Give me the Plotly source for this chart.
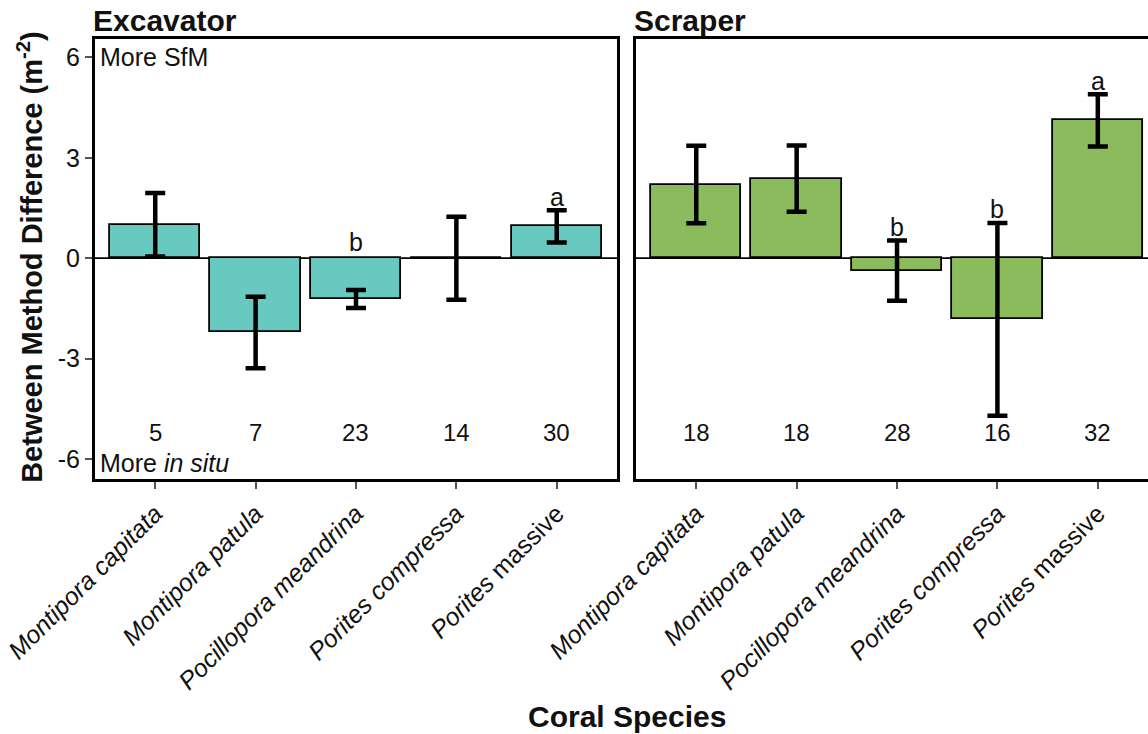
import plotly.graph_objects as go

# Coral species (x categories)
species = ["Montipora capitata", "Montipora patula", "Pocillopora meandrina",
           "Porites compressa", "Porites massive"]
species_labels = ["<i>Montipora capitata</i>", "<i>Montipora patula</i>",
                  "<i>Pocillopora meandrina</i>", "<i>Porites compressa</i>",
                  "<i>Porites</i> massive"]

# Excavator: mean between-method difference and standard error
excavator_mean = [1.00, -2.22, -1.22, 0.0, 0.95]
excavator_se = [0.95, 1.07, 0.27, 1.24, 0.48]
excavator_n = [5, 7, 23, 14, 30]
excavator_letters = ["", "", "b", "", "a"]
excavator_letter_y = [None, None, 0.48, None, 1.82]

# Scraper
scraper_mean = [2.20, 2.38, -0.37, -1.83, 4.12]
scraper_se = [1.16, 0.99, 0.90, 2.88, 0.78]
scraper_n = [18, 18, 28, 16, 32]
scraper_letters = ["", "", "b", "b", "a"]
scraper_letter_y = [None, None, 0.93, 1.46, 5.28]

y_ticks = [-6, -3, 0, 3, 6]

FONT = "Liberation Sans, Arial, Helvetica, sans-serif"
TEAL = "#67c9bf"
GREEN = "#8bbb5d"
TXT = "#111"

xpos = [1, 2, 3, 4, 5]

fig = go.Figure()

panels = [
    ("x", "y", excavator_mean, excavator_se, excavator_n, excavator_letters, excavator_letter_y, TEAL),
    ("x2", "y2", scraper_mean, scraper_se, scraper_n, scraper_letters, scraper_letter_y, GREEN),
]

for xa, ya, means, ses, ns, letters, letter_y, color in panels:
    fig.add_trace(go.Bar(
        x=xpos, y=means, xaxis=xa, yaxis=ya, width=0.9,
        marker=dict(color=color, line=dict(color="black", width=1.8)),
        error_y=dict(type="data", array=ses, visible=True, color="black",
                     thickness=4.5, width=10),
        showlegend=False, hoverinfo="skip",
    ))
    # sample sizes along the bottom of the panel
    for xv, n in zip(xpos, ns):
        fig.add_annotation(x=xv, y=-5.22, xref=xa, yref=ya, text=str(n),
                           showarrow=False, font=dict(size=24, color=TXT, family=FONT),
                           yanchor="middle")
    # significance letters
    for xv, lt, ly in zip(xpos, letters, letter_y):
        if lt:
            fig.add_annotation(x=xv, y=ly, xref=xa, yref=ya, text=lt,
                               showarrow=False, font=dict(size=25, color=TXT, family=FONT),
                               yanchor="middle")

axis_common = dict(
    showgrid=False, zeroline=False, showline=True, linecolor="black", linewidth=3,
    ticks="outside", ticklen=7, tickwidth=2, tickcolor="#555",
)

xtickfont = dict(size=25, family=FONT, color=TXT)

fig.update_layout(
    width=1148, height=734,
    margin=dict(l=95, r=0, t=39, b=255),
    paper_bgcolor="white", plot_bgcolor="white",
    font=dict(family=FONT, color=TXT),
    bargap=0,
    xaxis=dict(domain=[0, 0.4957], range=[0.4, 5.6], mirror=True,
               tickmode="array", tickvals=xpos, ticktext=species_labels,
               tickangle=-45, tickfont=xtickfont,
               **axis_common),
    yaxis=dict(domain=[0, 1], range=[-6.6, 6.55], mirror=True,
               tickmode="array", tickvals=y_ticks, ticktext=[str(v) for v in y_ticks],
               tickfont=dict(size=25, family=FONT, color=TXT),
               **axis_common),
    xaxis2=dict(domain=[0.5138, 1], range=[0.4, 5.5], mirror=True, anchor="y2",
                tickmode="array", tickvals=xpos, ticktext=species_labels,
                tickangle=-45, tickfont=xtickfont,
                **axis_common),
    yaxis2=dict(domain=[0, 1], range=[-6.6, 6.55], anchor="x2", mirror=False,
                showticklabels=False,
                **{**axis_common, "ticks": ""}),
)

# zero reference lines
for xa, ya, x1 in [("x", "y", 5.6), ("x2", "y2", 5.5)]:
    fig.add_shape(type="line", xref=xa, yref=ya, x0=0.4, x1=x1, y0=0, y1=0,
                  line=dict(color="black", width=1.8), layer="below")

# direction hints
fig.add_annotation(x=0.4, y=6, xref="x", yref="y", xanchor="left", yanchor="middle",
                   xshift=3, text="More SfM", showarrow=False,
                   font=dict(size=25, family=FONT, color=TXT))
fig.add_annotation(x=0.4, y=-6, xref="x", yref="y", xanchor="left", yanchor="middle",
                   xshift=3, yshift=-4, text="More <i>in situ</i>", showarrow=False,
                   font=dict(size=25, family=FONT, color=TXT))

# panel titles
fig.add_annotation(x=0, y=1.043, xref="paper", yref="paper", xanchor="left", yanchor="middle",
                   xshift=-4, text="<b>Excavator</b>", showarrow=False,
                   font=dict(size=30, family=FONT, color=TXT))
fig.add_annotation(x=0.5138, y=1.043, xref="paper", yref="paper", xanchor="left", yanchor="middle",
                   xshift=-4, text="<b>Scraper</b>", showarrow=False,
                   font=dict(size=30, family=FONT, color=TXT))

# axis titles
fig.add_annotation(x=0.505, y=-0.539, xref="paper", yref="paper", xanchor="center", yanchor="middle",
                   text="<b>Coral Species</b>", showarrow=False,
                   font=dict(size=30, family=FONT, color=TXT))
fig.add_annotation(x=-0.0617, y=0.505, xref="paper", yref="paper", xanchor="center", yanchor="middle",
                   text="<b>Between Method Difference (m<sup>-2</sup>)</b>", showarrow=False,
                   textangle=-90, font=dict(size=29, family=FONT, color=TXT))

fig.write_html("out.html")
